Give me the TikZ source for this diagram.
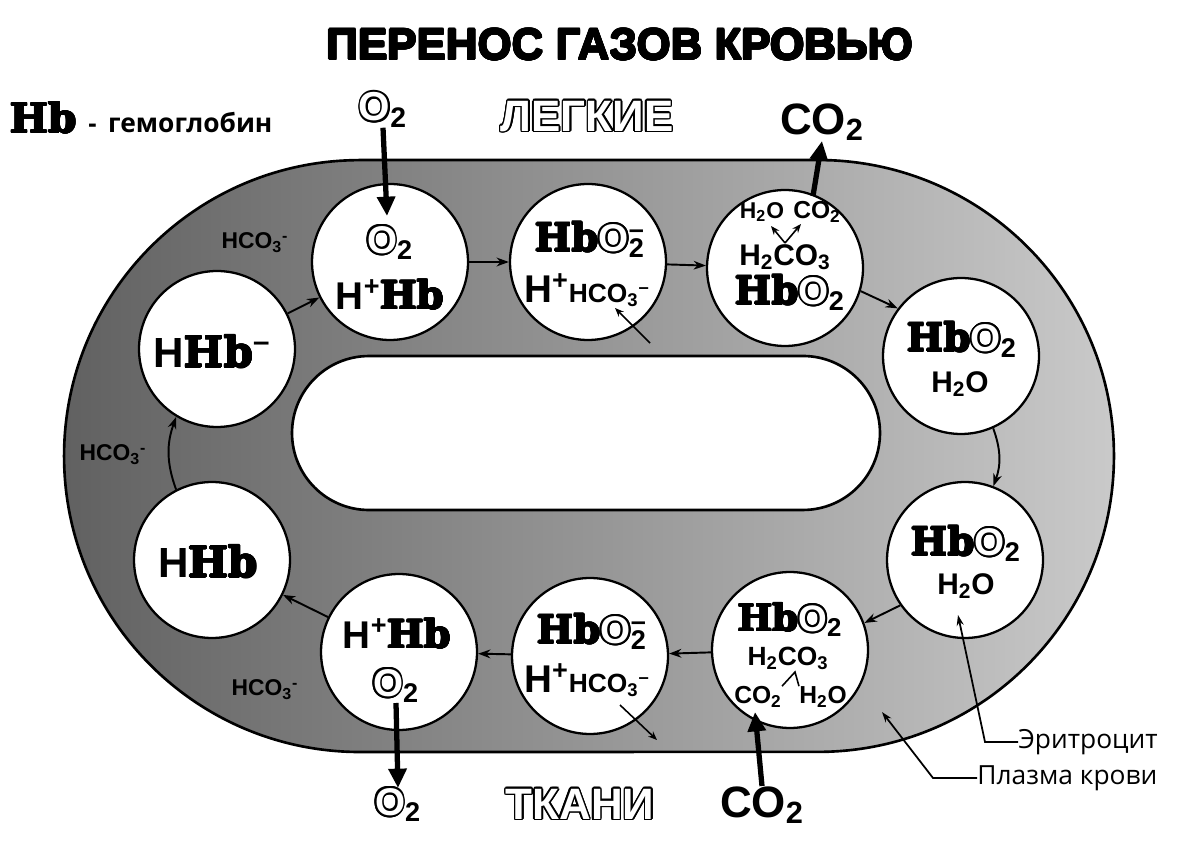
\documentclass[tikz,border=0pt]{standalone}
\usepackage{fontspec}
\setmainfont{Liberation Sans}
\newfontfamily\hbfont{DejaVu Serif}
\newfontfamily\osans{Open Sans}
\usepackage[copies]{contour}
\contourlength{0.6pt}
\usetikzlibrary{arrows.meta}
\definecolor{plasmaD}{gray}{0.38}
\definecolor{plasmaM}{gray}{0.64}
\definecolor{plasmaL}{gray}{0.79}
\newcommand\fsz[1]{\fontsize{#1}{#1}\selectfont\bfseries}
\newcommand\Hbx{{\contourlength{0.35pt}\contour{black}{\hbfont\bfseries Hb}}}
\newcommand\Ox{{\contourlength{1.1pt}\contour{black}{\textcolor{white}{O}}}}
\newcommand\lo[1]{\textsubscript{#1}}
\newcommand\hi[1]{\textsuperscript{#1}}
\tikzset{
 cell/.style={circle,draw,fill=white,line width=1.3pt,minimum size=3.12cm,inner sep=0pt},
 txt/.style={inner sep=0pt},
 flow/.style={line width=1.1pt,-{Stealth[length=7pt,width=5pt]}},
 gas/.style={line width=3pt,-{Triangle[length=11pt,width=10pt]}},
 tinyarr/.style={line width=0.9pt,-{Stealth[length=5pt,width=4pt]}},
 lead/.style={line width=1pt,-{Stealth[length=6pt,width=4pt]}}
}
\begin{document}
\begin{tikzpicture}[x=0.02cm,y=-0.02cm]
\useasboundingbox (0,0) rectangle (1200,847);
\fill[white] (0,0) rectangle (1200,847);
% plasma
\path[draw,line width=1.5pt,left color=plasmaD,middle color=plasmaM,right color=plasmaL]
 (360,160) -- (818,160) arc[start angle=90,end angle=-90,radius=5.92cm]
 -- (360,752) arc[start angle=270,end angle=90,radius=5.92cm] -- cycle;
\path[draw,line width=1.5pt,fill=white]
 (369,356) -- (803,356) arc[start angle=90,end angle=-90,radius=1.54cm]
 -- (369,510) arc[start angle=270,end angle=90,radius=1.54cm] -- cycle;
% cells
\node[cell] (c1) at (390,262) {};
\node[cell] (c2) at (588,262) {};
\node[cell] (c3) at (785,268) {};
\node[cell] (c4) at (961,356) {};
\node[cell] (c5) at (965,560) {};
\node[cell] (c6) at (790,650) {};
\node[cell] (c7) at (590,656) {};
\node[cell] (c8) at (399,652) {};
\node[cell] (c9) at (212,560) {};
\node[cell] (c10) at (217,349) {};
% title and legend
\node[txt] (title) at (620,45) {\fsz{25}\contourlength{0.45pt}\contour{black}{ПЕРЕНОС ГАЗОВ КРОВЬЮ}};
\node[txt,anchor=west] (legend) at (10,118) {\fsz{23}\Hbx\ {\fsz{15}-}\ {\osans\fontsize{15}{15}\selectfont гемоглобин}};
\node[txt] (lungs) at (587,117) {\fsz{25}\contourlength{0.9pt}\contour{black}{\textcolor{white}{ЛЕГКИЕ}}};
\node[txt] (tissue) at (580,805) {\fsz{25}\contourlength{0.9pt}\contour{black}{\textcolor{white}{ТКАНИ}}};
% gases outside
\node[txt] (o2top) at (383,110) {\fsz{23}\Ox\lo{2}};
\node[txt] (co2top) at (822,122) {\fsz{25}CO\lo{2}};
\node[txt] (o2bot) at (398,805) {\fsz{22}\Ox\lo{2}};
\node[txt] (co2bot) at (762,805) {\fsz{25}CO\lo{2}};
% cell 1
\node[txt] (t1a) at (390,243) {\fsz{22}\Ox\lo{2}};
\node[txt] (t1b) at (390,295) {\fsz{22}H\hi{+}\Hbx};
% cell 2
\node[txt] (t2a) at (590,240) {\fsz{22}\Hbx\Ox\rlap{\hi{--}}\lo{2}};
\node[txt] (t2b) at (587,290) {\fsz{22}H\hi{+}{\fsz{15}HCO\lo{3}\hi{--}}};
% cell 3
\node[txt] (t3a) at (762,212) {\fsz{13}H\lo{2}O};
\node[txt] (t3b) at (817,212) {\fsz{14}CO\lo{2}};
\node[txt] (t3c) at (785,257) {\fsz{17}H\lo{2}CO\lo{3}};
\node[txt] (t3d) at (790,293) {\fsz{22}\Hbx\Ox\lo{2}};
\coordinate (j3) at (785,243);
\coordinate (j3a) at (771,226);
\coordinate (j3b) at (801,224);
% cell 4, 5
\node[txt] (t4a) at (962,340) {\fsz{22}\Hbx\Ox\lo{2}};
\node[txt] (t4b) at (960,384) {\fsz{17}H\lo{2}O};
\node[txt] (t5a) at (966,544) {\fsz{22}\Hbx\Ox\lo{2}};
\node[txt] (t5b) at (966,586) {\fsz{17}H\lo{2}O};
% cell 6
\node[txt] (t6a) at (790,620) {\fsz{21}\Hbx\Ox\lo{2}};
\node[txt] (t6b) at (788,658) {\fsz{15}H\lo{2}CO\lo{3}};
\node[txt] (t6c) at (758,697) {\fsz{14}CO\lo{2}};
\node[txt] (t6d) at (823,697) {\fsz{14}H\lo{2}O};
\coordinate (j6) at (795,672);
% cell 7
\node[txt] (t7a) at (592,632) {\fsz{22}\Hbx\Ox\rlap{\hi{--}}\lo{2}};
\node[txt] (t7b) at (587,680) {\fsz{22}H\hi{+}{\fsz{15}HCO\lo{3}\hi{--}}};
% cell 8
\node[txt] (t8a) at (397,634) {\fsz{22}H\hi{+}\Hbx};
\node[txt] (t8b) at (396,686) {\fsz{22}\Ox\lo{2}};
% cell 9, 10
\node[txt] (t9) at (208,562) {\fsz{24}H\Hbx};
\node[txt] (t10) at (212,352) {\fsz{24}H\Hbx\hi{--}};
% bicarbonate labels
\node[txt] (hco1) at (255,243) {\fsz{13}HCO\lo{3}\hi{-}};
\node[txt] (hco2) at (113,455) {\fsz{13}HCO\lo{3}\hi{-}};
\node[txt] (hco3) at (265,690) {\fsz{13}HCO\lo{3}\hi{-}};
% flows between cells
\draw[flow] (c1) -- (c2);
\draw[flow] (c2) -- (c3);
\draw[flow] (c3.-17) -- (c4.143);
\draw[flow] (c4.-66) to[out=-70,in=70] (c5.69);
\draw[flow] (c5.215) -- (c6.20);
\draw[flow] (c6) -- (c7);
\draw[flow] (c7) -- (c8);
\draw[flow] (c8) -- (c9);
\draw[flow] (c9.117) to[out=110,in=-110] (c10.239);
\draw[flow] (c10) -- (c1);
% gas arrows
\coordinate (o2in) at (387,216);
\draw[gas] (o2top.south) -- (o2in);
\coordinate (co2out) at (813,196);
\draw[gas] (co2out) -- (co2top.south);
\coordinate (o2out) at (396,703);
\draw[gas] (o2out) -- (o2bot.north);
\coordinate (co2in) at (755,712);
\draw[gas] (co2bot.north) -- (co2in);
% small arrows in cells
\coordinate (a2s) at (650,343); \coordinate (a2e) at (615,308);
\draw[tinyarr] (a2s) -- (a2e);
\coordinate (a7s) at (620,705); \coordinate (a7e) at (657,740);
\draw[tinyarr] (a7s) -- (a7e);
\draw[tinyarr] (j3) -- (j3a);
\draw[tinyarr] (j3) -- (j3b);
\draw[line width=0.9pt] (t6c.north east) -- (j6) -- (t6d.north west);
% labels with leaders
\node[txt,anchor=west] (ery) at (1018,742) {\osans\fontsize{15}{15}\selectfont Эритроцит};
\node[txt,anchor=west] (plasma) at (977,778) {\osans\fontsize{15}{15}\selectfont Плазма крови};
\coordinate (eryK) at (985,742); \coordinate (eryT) at (958,615);
\coordinate (plK) at (933,778); \coordinate (plT) at (882,712);
\draw[lead] (ery.west) -- (eryK) -- (eryT);
\draw[lead] (plasma.west) -- (plK) -- (plT);
\end{tikzpicture}
\end{document}
